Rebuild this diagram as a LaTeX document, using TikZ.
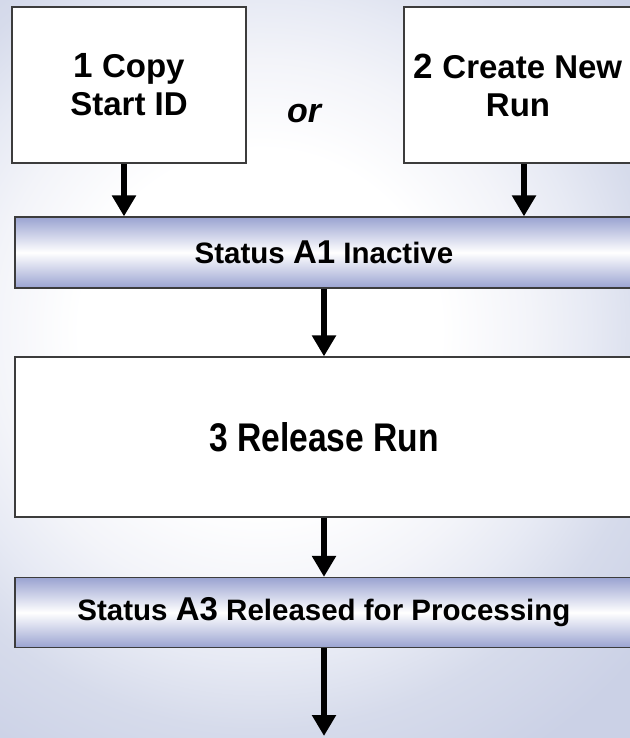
\documentclass[tikz,border=0pt]{standalone}
\usepackage{fontspec}
\setmainfont{Liberation Sans}
\newfontfamily\narrowsans[FakeStretch=0.84]{Liberation Sans}
\usepackage{tikz}
\usetikzlibrary{arrows.meta, positioning}
\definecolor{BarBlue}{HTML}{9AA3D1}
\definecolor{EdgeGray}{HTML}{3C3C3C}
\definecolor{BgPale}{HTML}{F3F4F9}
\definecolor{BgLav}{HTML}{E7EAF4}
\definecolor{BgMid}{HTML}{D6DBEB}
\definecolor{BgDeep}{HTML}{CBD1E6}
\pgfdeclareradialshading{pageglow}{\pgfpointorigin}{color(0bp)=(white); color(9bp)=(white); color(13.5bp)=(BgPale); color(16.5bp)=(BgLav); color(20bp)=(BgMid); color(25bp)=(BgDeep); color(50bp)=(BgDeep)}
\newcommand{\stepnum}[2]{{\fontsize{#1}{#1}\selectfont #2}}

\begin{document}
\begin{tikzpicture}[
    x=1pt, y=-1pt,
    boxbase/.style={draw=EdgeGray, line width=1.2pt, align=center, inner sep=0pt},
    stepbox/.style={boxbase, fill=white, minimum height=156pt, font=\fontsize{33}{38}\selectfont\bfseries},
    widebox/.style={stepbox, minimum width=618pt, minimum height=160pt, font=\fontsize{40}{44}\selectfont\narrowsans\bfseries},
    statusbar/.style={boxbase, minimum width=618pt, minimum height=70pt, top color=BarBlue, bottom color=BarBlue, middle color=white, font=\fontsize{29.5}{34}\selectfont\bfseries},
    orlbl/.style={font=\fontsize{34}{34}\selectfont\bfseries\itshape},
    arr/.style={-{Triangle[length=21pt, width=23pt]}, line width=6pt},
]
\useasboundingbox (0,0) rectangle (629,738);
\shade[shading=pageglow] (-240,-170) rectangle (760,830);

% --- Entry steps (top row) ---
\node[stepbox, minimum width=234pt] at (129,85)  (copy)   {\stepnum{35}{1} Copy\\Start ID};
\node[orlbl]                        at (304,114) (ornote) {or};
\node[stepbox, minimum width=228pt] at (518,85)  (create) {\stepnum{35}{2} Create New\\Run};

% --- Status bars and release step ---
\node[statusbar, minimum height=71pt] at (324,252.5) (inactive) {Status \stepnum{33}{A1} Inactive};
\node[widebox]                        at (324,437)   (release)  {3 Release Run};
\node[statusbar]                      at (324,612.5) (released) {Status \stepnum{33}{A3} Released for Processing};
\coordinate (next) at (324,736);

% --- Transitions ---
\coordinate[xshift=-5pt] (copyout)   at (copy.south);
\coordinate[xshift=6pt]  (createout) at (create.south);
\draw[arr] (copyout)   -- (copyout |- inactive.north);
\draw[arr] (createout) -- (createout |- inactive.north);
\draw[arr] (inactive) -- (release);
\draw[arr] (release)  -- (released);
\draw[arr] (released) -- (next);

\end{tikzpicture}
\end{document}
